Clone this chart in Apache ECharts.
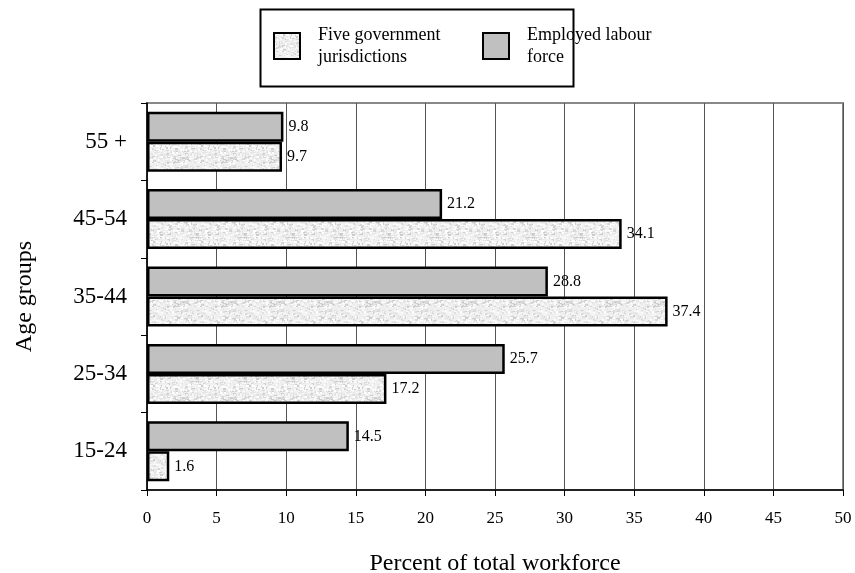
<!DOCTYPE html>
<html>
<head>
<meta charset="utf-8">
<script src="https://cdn.jsdelivr.net/npm/echarts@6/dist/echarts.min.js"></script>
<style>
html,body{margin:0;padding:0;background:#fff;}
#chart{width:855px;height:573px;}
</style>
</head>
<body>
<div id="chart"></div>
<script>
const categories = ['15-24', '25-34', '35-44', '45-54', '55 +'];
const fiveGov = [1.6, 17.2, 37.4, 34.1, 9.7];
const employed = [14.5, 25.7, 28.8, 21.2, 9.8];
const xTicks = [0, 5, 10, 15, 20, 25, 30, 35, 40, 45, 50];

// speckled texture (deterministic)
function makePattern() {
  const c = document.createElement('canvas');
  c.width = 48; c.height = 48;
  const ctx = c.getContext('2d');
  ctx.fillStyle = '#efefef';
  ctx.fillRect(0, 0, 48, 48);
  let s = 12345;
  function rnd() { s = (s * 1103515245 + 12345) & 0x7fffffff; return s / 0x7fffffff; }
  const shades = ['#d8d8d8', '#e0e0e0', '#f8f8f8', '#ffffff', '#cdcdcd', '#e6e6e6', '#fafafa'];
  for (let i = 0; i < 650; i++) {
    const x = Math.floor(rnd() * 48), y = Math.floor(rnd() * 48);
    const w = 1 + Math.floor(rnd() * 3), h = 1 + Math.floor(rnd() * 2);
    ctx.fillStyle = shades[Math.floor(rnd() * shades.length)];
    ctx.fillRect(x, y, w, h);
  }
  return c;
}
const pattern = { image: makePattern(), repeat: 'repeat' };

const serif = '"Liberation Serif", "Times New Roman", serif';
const chart = echarts.init(document.getElementById('chart'));
const labelStyle = { show: true, position: 'right', distance: 5, fontFamily: serif, fontSize: 16, color: '#000' };
const legendText = { fontFamily: serif, fontSize: 18, color: '#000', lineHeight: 22, padding: [10, 0, 0, 13] };

chart.setOption({
  animation: false,
  backgroundColor: '#fff',
  graphic: [{
    type: 'rect', left: 258, top: 7,
    shape: { width: 313, height: 77 },
    style: { fill: 'none', stroke: '#000', lineWidth: 2 }
  }],
  legend: [{
    data: ['Five government jurisdictions'],
    left: 273, top: 19, padding: 0, itemWidth: 26, itemHeight: 26, icon: 'rect',
    formatter: () => 'Five government\njurisdictions',
    textStyle: legendText
  }, {
    data: ['Employed labour force'],
    left: 482, top: 19, padding: 0, itemWidth: 26, itemHeight: 26, icon: 'rect',
    formatter: () => 'Employed labour\nforce',
    textStyle: legendText
  }],
  grid: { left: 147, right: 12, top: 103, bottom: 83, outerBoundsMode: 'none', containLabel: false,
    show: true, borderColor: '#888', borderWidth: 2, backgroundColor: 'transparent' },
  xAxis: {
    type: 'value', min: 0, max: 50, interval: 5,
    name: 'Percent of total workforce', nameLocation: 'middle', nameGap: 62,
    nameTextStyle: { fontFamily: serif, fontSize: 24, color: '#000' },
    axisLine: { show: true, lineStyle: { color: '#000', width: 1.5 } },
    axisTick: { show: true, length: 6, lineStyle: { color: '#000' } },
    axisLabel: { fontFamily: serif, fontSize: 17, color: '#000', margin: 20, formatter: v => xTicks.includes(v) ? String(v) : '' },
    splitLine: { show: true, lineStyle: { color: '#555', width: 1 } }
  },
  yAxis: {
    type: 'category', data: categories,
    name: 'Age groups', nameLocation: 'middle', nameGap: 110, nameRotate: 90,
    nameTextStyle: { fontFamily: serif, fontSize: 24, color: '#000' },
    axisLine: { show: true, lineStyle: { color: '#000', width: 1.5 } },
    axisTick: { show: true, length: 6, lineStyle: { color: '#000' } },
    axisLabel: { fontFamily: serif, fontSize: 23, color: '#000', margin: 20 },
    splitLine: { show: false }
  },
  series: [{
    name: 'Employed labour force', type: 'bar', data: employed,
    barWidth: 30, barGap: '0%',
    itemStyle: { color: '#c0c0c0', borderColor: '#000', borderWidth: 2.5 },
    label: labelStyle
  }, {
    name: 'Five government jurisdictions', type: 'bar', data: fiveGov,
    barWidth: 30, barGap: '0%',
    itemStyle: { color: pattern, borderColor: '#000', borderWidth: 2.5 },
    label: labelStyle
  }]
});
</script>
</body>
</html>
